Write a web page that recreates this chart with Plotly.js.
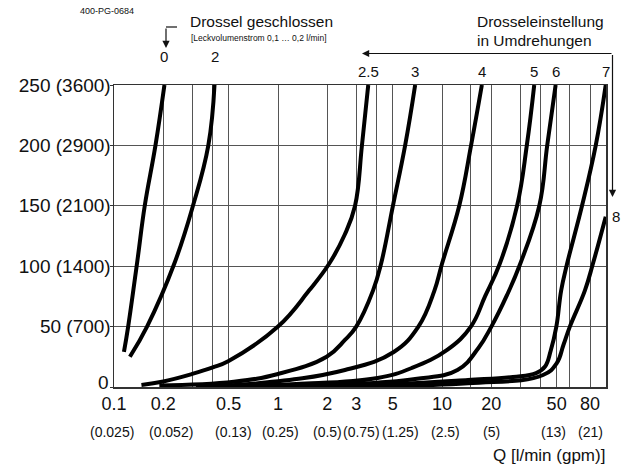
<!DOCTYPE html>
<html><head><meta charset="utf-8">
<script src="https://cdn.plot.ly/plotly-3.0.1.min.js"></script>
<style>body{margin:0;background:#fff}#chart{width:630px;height:465px}</style>
</head><body><div id="chart"></div>
<script>
// Throttle settings (turns) and their curves: Q [l/min] vs pressure [bar]
const settings = ["0","2","2.5","3","4","5","6","7","8"];
const q0  = [0.115, 0.122, 0.139, 0.154, 0.179, 0.203];
const p0  = [29, 50, 105, 150, 200, 250];
const q2  = [0.125, 0.159, 0.233, 0.303, 0.376, 0.41];
const p2  = [25, 50, 102, 150, 200, 250];
const q25 = [0.147, 0.2, 0.3, 0.4, 0.5, 1.0, 1.55, 2.05, 2.55, 2.95, 3.25, 3.55];
const p25 = [1.7, 4.6, 10.8, 16.2, 21.6, 50, 80, 102, 126, 150, 200, 250];
const q3  = [0.189, 0.538, 1.0, 1.98, 2.56, 3.0, 3.8, 4.25, 5.02, 5.96, 6.86];
const p3  = [1.2, 4.4, 10.8, 25.1, 39, 50, 80, 102, 150, 200, 250];
const q4  = [0.316, 0.755, 2.56, 5.08, 7.18, 9.0, 10.0, 12.74, 15.04, 17.5];
const p4  = [0.8, 3.1, 14.1, 29, 50, 80, 102, 150, 200, 250];
const q5  = [0.316, 1.29, 4.05, 6.56, 10.75, 15.0, 18.3, 22.5, 28.7, 32.9, 36.5];
const p5  = [0.4, 2.5, 7.5, 15.8, 30.7, 50, 75, 102, 150, 200, 250];
const q6  = [0.624, 2.56, 6.86, 12.43, 16.68, 20.0, 24.9, 30.0, 39.2, 43.8, 49.3];
const p6  = [0.4, 2.1, 6.6, 14.1, 32.3, 50, 76, 102, 150, 200, 250];
const q7  = [1.29, 5.08, 14.4, 27.1, 37.5, 42.5, 46.0, 49.8, 53.3, 57.9, 71.4, 86.6, 99.6];
const p7  = [0.4, 2.5, 5.8, 8.3, 11.5, 17, 30, 50, 80, 102, 150, 200, 250];
const q8  = [2.56, 14.4, 41.3, 50.1, 55.0, 60.2, 74.4, 83.2, 99.6];
const p8  = [0.4, 3.1, 9.9, 19.7, 34.8, 50, 80, 102, 141];

// Axis ticks
const qTicks  = [0.1,0.2,0.3,0.4,0.5,1,2,3,4,5,10,15,20,30,40,50,60,80,100];
const qLabels = ["0.1","0.2","","","0.5","1","2","3","","5","10","","20","","","50","","80",""];
const gpmAt     = [0.1,0.2,0.5,1,2,3,5,10,20,50,80];
const gpmLabels = ["(0.025)","(0.052)","(0.13)","(0.25)","(0.5)","(0.75)","(1.25)","(2.5)","(5)","(13)","(21)"];
const pTicks  = [0,50,100,150,200,250];
const pLabels = ["0","50 (700)","100 (1400)","150 (2100)","200 (2900)","250 (3600)"];

const Qs = [q0,q2,q25,q3,q4,q5,q6,q7,q8];
const Ps = [p0,p2,p25,p3,p4,p5,p6,p7,p8];

const traces = Qs.map((q,i)=>({
  x:q, y:Ps[i], type:'scatter', mode:'lines', name:settings[i],
  line:{color:'#000', width:4, shape:'spline', smoothing:1.2}, hoverinfo:'skip'
}));

// pixel helpers for decorations (plot area 114..606 x, 85..387 y)
const L=114, W=492, T=85, H=302;
const xp = px => (px-L)/W;
const yp = py => (T+H-py)/H;

const FONT = 'Liberation Sans, Arial, sans-serif';
const ann = [];
const topY = {"0":57,"2":57};
settings.forEach((s,i)=>{
  if (s==="8") return;
  const q = Qs[i][Qs[i].length-1];
  ann.push({xref:'x', yref:'paper', x:Math.log10(q), y:yp(topY[s]||71), text:s, showarrow:false,
    font:{size:15,color:'#111',family:FONT}, xanchor:'center', yanchor:'middle'});
});
ann.push({xref:'paper', yref:'paper', x:xp(610), y:yp(216), text:'8', showarrow:false,
  font:{size:15,color:'#111',family:FONT}, xanchor:'left', yanchor:'middle'});
// lowest y label sits slightly above the axis line, as in the original
ann.push({xref:'paper', yref:'paper', x:0, y:pTicks[0]/250, text:pLabels[0], showarrow:false,
  xshift:-3, yshift:5, font:{size:19,color:'#111',family:FONT}, xanchor:'right', yanchor:'middle'});
// second label row (gpm), nudged as in the original drawing
const gpmShift = [-2, 8, 5, 2, 0, 5, 8, 3, 0, -3, 0];
gpmAt.forEach((q,i)=>{
  ann.push({xref:'x', yref:'paper', x:Math.log10(q), y:yp(432), text:gpmLabels[i], showarrow:false,
    xshift:gpmShift[i],
    font:{size:14,color:'#111',family:FONT}, xanchor:'center', yanchor:'middle'});
});
ann.push({xref:'paper', yref:'paper', x:xp(607), y:yp(455), text:'Q [l/min (gpm)]', showarrow:false,
  font:{size:17,color:'#111',family:FONT}, xanchor:'right', yanchor:'middle'});
ann.push({xref:'paper', yref:'paper', x:xp(78), y:yp(11), text:'400-PG-0684', showarrow:false,
  font:{size:9,color:'#111',family:FONT}, xanchor:'left', yanchor:'middle'});
ann.push({xref:'paper', yref:'paper', x:xp(188), y:yp(22), text:'Drossel geschlossen', showarrow:false,
  font:{size:15.5,color:'#111',family:FONT}, xanchor:'left', yanchor:'middle'});
ann.push({xref:'paper', yref:'paper', x:xp(189), y:yp(38), text:'[Leckvolumenstrom 0,1 … 0,2 l/min]', showarrow:false,
  font:{size:8.5,color:'#111',family:FONT}, xanchor:'left', yanchor:'middle'});
ann.push({xref:'paper', yref:'paper', x:xp(475), y:yp(21), text:'Drosseleinstellung', showarrow:false,
  font:{size:15.5,color:'#111',family:FONT}, xanchor:'left', yanchor:'middle'});
ann.push({xref:'paper', yref:'paper', x:xp(475), y:yp(40), text:'in Umdrehungen', showarrow:false,
  font:{size:15.5,color:'#111',family:FONT}, xanchor:'left', yanchor:'middle'});
ann.push({xref:'paper', yref:'paper', x:xp(166), y:yp(48), ax:0, ay:-21, text:'', showarrow:true,
  arrowhead:2, arrowsize:1.2, arrowwidth:1.2, arrowcolor:'#111'});
ann.push({xref:'paper', yref:'paper', x:xp(362), y:yp(53.5), ax:251, ay:0, text:'', showarrow:true,
  arrowhead:2, arrowsize:1.2, arrowwidth:1.2, arrowcolor:'#111'});
ann.push({xref:'paper', yref:'paper', x:xp(612.5), y:yp(197), ax:0, ay:-143.5, text:'', showarrow:true,
  arrowhead:2, arrowsize:1.2, arrowwidth:1.2, arrowcolor:'#111'});

const shapes = [
  {type:'line', xref:'paper', yref:'paper', x0:xp(166), x1:xp(177), y0:yp(27), y1:yp(27), line:{color:'#111', width:1.2}}
];

const yTickText = pLabels.map((t,i)=> i===0 ? "" : t);

const layout = {
  width:630, height:465,
  margin:{l:114, r:24, t:85, b:78},
  paper_bgcolor:'#fff', plot_bgcolor:'#fff',
  showlegend:false,
  font:{family:FONT, color:'#111', size:17},
  xaxis:{type:'log', range:[-1,2], tickmode:'array', tickvals:qTicks, ticktext:qLabels,
    showgrid:true, gridcolor:'#555', gridwidth:1, showline:true, linecolor:'#333', linewidth:1.5,
    mirror:true, ticks:'', zeroline:false, tickfont:{size:18,family:FONT,color:'#111'}, fixedrange:true},
  yaxis:{range:[0,250], tickmode:'array', tickvals:pTicks, ticktext:yTickText,
    showgrid:true, gridcolor:'#555', gridwidth:1, showline:true, linecolor:'#333', linewidth:1.5,
    mirror:true, ticks:'outside', ticklen:3, tickcolor:'#333', zeroline:false, ticklabelstandoff:-5,
    tickfont:{size:19,family:FONT,color:'#111'}, fixedrange:true},
  annotations:ann, shapes:shapes
};
Plotly.newPlot('chart', traces, layout, {displayModeBar:false, staticPlot:true});
</script></body></html>
